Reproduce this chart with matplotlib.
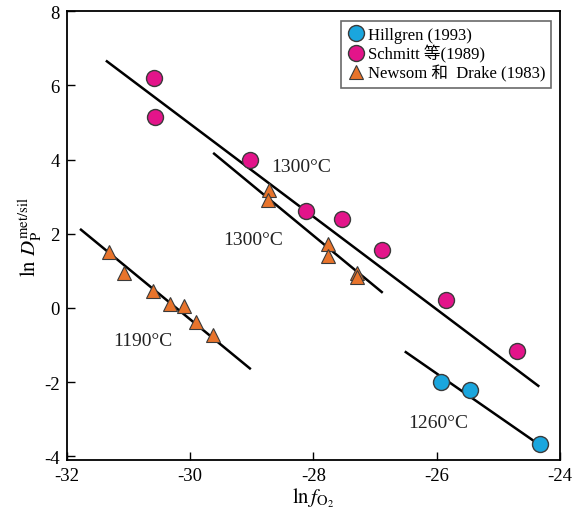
import matplotlib
matplotlib.use("Agg")
import matplotlib.pyplot as plt

plt.rcParams['font.family'] = ['Liberation Serif', 'Noto Sans CJK SC', 'DejaVu Sans']
plt.rcParams['mathtext.fontset'] = 'stix'
plt.rcParams['axes.unicode_minus'] = False

# Data
hill_x = [-25.93, -25.46, -24.32]
hill_y = [-2.0, -2.2, -3.67]

schm_x = [-30.59, -30.57, -29.03, -28.12, -27.54, -26.89, -25.85, -24.70]
schm_y = [6.2, 5.15, 4.0, 2.62, 2.4, 1.57, 0.22, -1.17]

nd1190_x = [-31.32, -31.07, -30.60, -30.33, -30.10, -29.91, -29.63]
nd1190_y = [1.51, 0.95, 0.46, 0.10, 0.06, -0.38, -0.74]

nd1300_x = [-28.72, -28.74, -27.76, -27.76, -27.29, -27.29]
nd1300_y = [3.19, 2.92, 1.72, 1.41, 0.93, 0.83]

# fitted lines (endpoints)
line_schm_x = [-31.35, -24.35]
line_schm_y = [6.65, -2.1]
line_nd1300_x = [-29.61, -26.89]
line_nd1300_y = [4.16, 0.43]
line_nd1190_x = [-31.77, -29.03]
line_nd1190_y = [2.11, -1.63]
line_hill_x = [-26.5, -24.34]
line_hill_y = [-1.19, -3.68]

labels = ["1300°C", "1300°C", "1190°C", "1260°C"]
label_x = [-28.2, -28.98, -30.77, -25.98]
label_y = [3.82, 1.84, -0.88, -3.08]

fig = plt.figure(figsize=(5.76, 5.10), dpi=100)
ax = fig.add_axes([0.116, 0.096, 0.856, 0.880])

for lx, ly in [(line_schm_x, line_schm_y), (line_nd1300_x, line_nd1300_y),
               (line_nd1190_x, line_nd1190_y), (line_hill_x, line_hill_y)]:
    ax.plot(lx, ly, color='black', lw=1.8, zorder=2)

ec = '#3a3a3a'
ax.plot(hill_x, hill_y, 'o', ms=11.5, mfc='#1aa6de', mec=ec, mew=1.0, ls='none',
        label='Hillgren (1993)', zorder=3)
ax.plot(schm_x, schm_y, 'o', ms=11.5, mfc='#e3148a', mec=ec, mew=1.0, ls='none',
        label='Schmitt 等(1989)', zorder=3)
ax.plot(nd1190_x, nd1190_y, '^', ms=9.5, mfc='#e8742c', mec=ec, mew=0.8, ls='none',
        label='Newsom 和  Drake (1983)', zorder=3)
ax.plot(nd1300_x, nd1300_y, '^', ms=9.5, mfc='#e8742c', mec=ec, mew=0.8, ls='none', zorder=3)

for t, x, y in zip(labels, label_x, label_y):
    ax.text(x, y, t, fontsize=14, ha='center', va='center', color='#222222')

ax.set_xlim(-32, -24)
ax.set_ylim(-4.1, 8)
ax.set_xticks([-32, -30, -28, -26, -24])
ax.set_yticks([-4, -2, 0, 2, 4, 6, 8])
ax.tick_params(direction='in', length=6, width=1, labelsize=13.5, top=False, right=False)
ax.tick_params(axis='x', pad=5)
ax.tick_params(axis='y', pad=5)
for s in ax.spines.values():
    s.set_linewidth(1.3)

ax.set_xlabel(r'$\mathrm{ln}\,f_{\mathrm{O_2}}$', fontsize=15, labelpad=1)
ax.set_ylabel(r'$\mathrm{ln}\ D_{\mathrm{P}}^{\mathrm{met/sil}}$', fontsize=15, labelpad=0)

leg = ax.legend(loc='upper right', bbox_to_anchor=(0.993, 0.99), fontsize=12,
                frameon=True, fancybox=False, edgecolor='#444444', handletextpad=0.1,
                borderpad=0.35, labelspacing=0.12, handlelength=1.2, borderaxespad=0.3)
leg.get_frame().set_linewidth(1.2)

fig.savefig('out.png', dpi=100)
